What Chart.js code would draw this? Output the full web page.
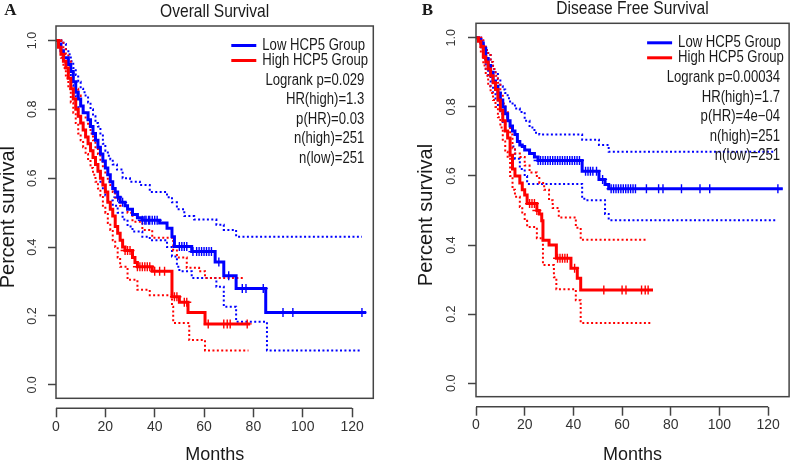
<!DOCTYPE html>
<html>
<head>
<meta charset="utf-8">
<script src="https://cdn.jsdelivr.net/npm/chart.js@4.4.1/dist/chart.umd.min.js"></script>
<style>
    html, body { margin: 0; padding: 0; background: #fff; }
    #wrap { position: relative; width: 795px; height: 464px; overflow: hidden; }
    .panel { position: absolute; top: 0; }
</style>
</head>
<body>
<div id="wrap">
    <canvas id="osChart" class="panel" width="397" height="464" style="left:0"></canvas>
    <canvas id="dfsChart" class="panel" width="398" height="464" style="left:397px"></canvas>
</div>
<script>

const xTicks = [0, 20, 40, 60, 80, 100, 120];
const yTicks = [0, 0.2, 0.4, 0.6, 0.8, 1.0];
const groupLabels = ["Low HCP5 Group", "High HCP5 Group"];

/* ===================================== */
/* OVERALL SURVIVAL  [month, survival]   */
/* ===================================== */

const osLow = [[0,1],[1,0.99],[2,0.97],[3,0.95],[5,0.93],[6,0.91],[7,0.88],[8,0.85],[9,0.83],[10,0.81],[11,0.79],[13,0.77],[14,0.75],[15,0.73],[16,0.71],[17,0.69],[18,0.67],[19,0.65],[20,0.63],[21,0.61],[22,0.59],[23,0.57],[24,0.56],[25,0.545],[26,0.53],[28,0.52],[29,0.51],[31,0.495],[33,0.485],[35,0.478],[42,0.47],[45,0.455],[47,0.43],[48,0.402],[55,0.387],[64.5,0.357],[68,0.317],[73,0.28],[85,0.21],[125.7,0.21]];
const osLowUp = [[0,1],[3,0.99],[4,0.975],[5,0.96],[6,0.94],[7,0.92],[8,0.9],[9,0.88],[10,0.86],[11,0.85],[12,0.84],[13,0.82],[14,0.8],[15,0.78],[16,0.76],[17,0.75],[18,0.73],[19,0.7],[20,0.68],[21,0.665],[22,0.655],[23,0.64],[24.7,0.625],[27,0.6],[30,0.59],[34,0.58],[38,0.56],[45,0.545],[47,0.53],[49,0.51],[52,0.49],[56,0.48],[65,0.465],[68,0.45],[73,0.43],[124,0.43]];
const osLowLo = [[0,1],[2,0.97],[3,0.94],[4,0.92],[5,0.9],[6,0.87],[7,0.84],[8,0.81],[9,0.78],[10,0.76],[11,0.74],[12,0.72],[13,0.7],[14,0.68],[15,0.66],[16,0.64],[17,0.62],[18,0.59],[19,0.567],[20,0.55],[21,0.535],[23,0.52],[25,0.5],[27,0.48],[29,0.46],[31,0.445],[35,0.43],[38,0.42],[45,0.4],[47,0.373],[49,0.343],[50,0.33],[55,0.31],[65,0.285],[68,0.227],[73,0.183],[85.5,0.1],[124,0.1]];
const osLowCens = [25, 27, 35, 36, 36.5, 37.5, 38, 39, 40, 41, 50, 51, 52, 53, 55.5, 57, 58, 59, 60, 61, 62, 63, 66, 70, 75.5, 77, 84, 92, 96, 124];

const osHigh = [[0,1],[1,0.98],[2,0.96],[3,0.94],[4,0.92],[5,0.89],[6,0.86],[7,0.83],[8,0.8],[9,0.78],[10,0.76],[11,0.74],[12,0.72],[13,0.7],[14,0.68],[15,0.66],[16,0.64],[17,0.62],[18,0.6],[19,0.58],[20,0.56],[21,0.53],[22,0.51],[23,0.49],[24,0.46],[25,0.44],[26,0.42],[27,0.4],[28,0.39],[31,0.37],[32,0.355],[33,0.343],[39,0.33],[47,0.256],[50,0.24],[53.5,0.21],[60.4,0.177],[78.7,0.177]];
const osHighUp = [[0,1],[3,0.98],[4,0.96],[5,0.94],[6,0.91],[7,0.88],[8,0.86],[9,0.84],[10,0.81],[11,0.79],[12,0.77],[13,0.75],[14,0.73],[15,0.71],[16,0.69],[17,0.67],[18,0.65],[19,0.63],[20,0.61],[21,0.59],[22,0.58],[23,0.56],[24,0.54],[26,0.52],[29,0.5],[31,0.474],[35,0.45],[39,0.427],[47.5,0.39],[49,0.37],[53,0.34],[58,0.33],[60.4,0.31],[76,0.31]];
const osHighLo = [[0,1],[2,0.95],[3,0.92],[4,0.89],[5,0.86],[6,0.82],[7,0.79],[8,0.76],[9,0.73],[10,0.71],[11,0.69],[12,0.67],[13,0.65],[14,0.63],[15,0.61],[16,0.59],[17,0.57],[18,0.55],[19,0.52],[20,0.5],[21,0.47],[22,0.45],[23,0.42],[24,0.4],[25,0.37],[26,0.343],[29,0.305],[33,0.276],[38,0.26],[47,0.227],[47.5,0.18],[54,0.13],[60.4,0.1],[78,0.1]];
const osHighCens = [28, 29, 30, 33, 34, 35, 36, 37, 38, 40, 42, 44, 48, 49, 52, 53, 61.7, 68, 69.4, 70.6, 77.5];

const osStats = ["Logrank p=0.029", "HR(high)=1.3", "p(HR)=0.03", "n(high)=251", "n(low)=251"];

/* ===================================== */
/* DISEASE FREE SURVIVAL                 */
/* ===================================== */

const dfsLow = [[0,1],[1,0.995],[2,0.985],[3,0.97],[4,0.94],[5,0.92],[6,0.9],[7,0.875],[8,0.86],[9,0.84],[10,0.82],[11,0.8],[12,0.78],[13,0.76],[14,0.745],[15,0.73],[16,0.72],[17,0.7],[18,0.69],[19,0.685],[20,0.675],[22,0.665],[24,0.655],[25.5,0.645],[43.6,0.614],[50.5,0.59],[53,0.575],[54.5,0.563],[126,0.563]];
const dfsLowUp = [[0,1],[2,0.99],[3,0.98],[4,0.965],[5,0.95],[6,0.93],[7,0.91],[8,0.895],[9,0.88],[10,0.86],[11,0.85],[12,0.84],[13,0.825],[14,0.81],[16,0.795],[18,0.785],[20,0.76],[22,0.74],[24,0.725],[26,0.72],[43.6,0.705],[50.5,0.69],[54.5,0.67],[123,0.67]];
const dfsLowLo = [[0,1],[2,0.97],[3,0.95],[4,0.91],[5,0.89],[6,0.86],[7,0.84],[8,0.82],[9,0.8],[10,0.78],[11,0.75],[12,0.73],[13,0.71],[14,0.685],[16,0.65],[18,0.62],[20,0.6],[21,0.577],[43.6,0.54],[44.5,0.53],[53,0.49],[54.5,0.472],[123,0.472]];
const dfsLowCens = [25.5, 26.5, 27.5, 28.5, 29.5, 30.5, 31.5, 32.5, 33.5, 34.5, 35.5, 36.5, 37.5, 38.5, 39.5, 40.5, 41.5, 42.5, 45, 46, 47, 48, 49.5, 52, 55.5, 56.5, 57.5, 58.5, 59.5, 60.5, 61.5, 62.5, 63.5, 64.5, 65.5, 70, 75, 76.8, 84.4, 92, 96, 124];

const dfsHigh = [[0,1],[1,0.99],[2,0.975],[3,0.945],[4,0.93],[5,0.91],[6,0.89],[7,0.87],[8,0.85],[9,0.82],[10,0.79],[11,0.76],[12,0.73],[13,0.71],[14,0.66],[15,0.62],[16,0.6],[18,0.58],[19,0.56],[20,0.545],[21,0.52],[25,0.5],[26,0.49],[27,0.47],[27.5,0.414],[30,0.4],[33,0.362],[39,0.333],[41.6,0.304],[43,0.27],[72.7,0.27]];
const dfsHighUp = [[0,1],[3,0.98],[4,0.965],[5,0.95],[6,0.93],[7,0.91],[8,0.89],[9,0.87],[10,0.84],[11,0.81],[12,0.785],[13,0.76],[14,0.72],[15,0.68],[16,0.665],[18,0.655],[20,0.63],[22,0.61],[25,0.6],[26,0.58],[28,0.56],[30,0.53],[31.5,0.507],[34,0.48],[41,0.45],[43,0.415],[70,0.415]];
const dfsHighLo = [[0,1],[2,0.96],[3,0.92],[4,0.89],[5,0.86],[6,0.84],[7,0.82],[8,0.8],[9,0.77],[10,0.74],[11,0.7],[12,0.67],[13,0.65],[14,0.6],[15,0.56],[16,0.54],[18,0.51],[19,0.49],[20,0.47],[21,0.452],[25,0.42],[27.5,0.342],[32,0.307],[33,0.272],[41,0.24],[43,0.174],[72,0.174]];
const dfsHighCens = [22, 23, 24, 25, 33.5, 34.5, 35.5, 36.5, 37.5, 40.5, 52.5, 60, 61.6, 68, 69.5, 70.7];

const dfsStats = ["Logrank p=0.00034", "HR(high)=1.7", "p(HR)=4e\u221204", "n(high)=251", "n(low)=251"];

const BLUE = "#0000ff";
const RED = "#ff0000";
const SANS = '"Liberation Sans", Arial, sans-serif';

function survAt(curve, t) {
    let s = curve[0][1];
    for (const [m, v] of curve) {
        if (m <= t) s = v;
    }
    return s;
}

function stepSet(curve, color, dotted) {
    return {
        type: "line",
        data: curve.map(([m, s]) => ({ x: m, y: s })),
        borderColor: color,
        borderWidth: dotted ? 2 : 3,
        borderDash: dotted ? [2, 2.4] : [],
        stepped: true,
        pointRadius: 0,
        fill: false
    };
}

function censorSet(curve, months, color) {
    return {
        type: "scatter",
        data: months.map(m => ({ x: m, y: survAt(curve, m) })),
        pointStyle: "cross",
        pointRadius: 4.5,
        borderColor: color,
        borderWidth: 1.4,
        showLine: false
    };
}

// the reference uses a condensed face, so squeeze plain text sideways
function narrowText(ctx, text, x, y, align) {
    ctx.save();
    ctx.translate(x, y);
    ctx.scale(0.82, 1);
    ctx.textAlign = align;
    ctx.fillText(text, 0, 0);
    ctx.restore();
}

/* box, detached x axis line, title, legend */
const kmFrame = {
    id: "kmFrame",
    afterDraw(chart, args, o) {
        const { ctx, chartArea: a, scales: { x, y } } = chart;
        ctx.save();

        ctx.strokeStyle = "#444";
        ctx.lineWidth = 1.5;
        const boxBottom = y.getPixelForValue(o.boxBottom);
        ctx.strokeRect(a.left, a.top, a.right - a.left, boxBottom - a.top);

        ctx.beginPath();
        ctx.moveTo(x.getPixelForValue(xTicks[0]), a.bottom);
        ctx.lineTo(x.getPixelForValue(xTicks[xTicks.length - 1]), a.bottom);
        ctx.stroke();

        ctx.fillStyle = "#1a1a1a";
        ctx.textBaseline = "middle";
        ctx.font = "19px " + SANS;
        narrowText(ctx, o.title, (a.left + a.right) / 2, a.top - 14.5, "center");

        ctx.font = 'bold 17px "Liberation Serif", serif';
        ctx.textAlign = "center";
        ctx.fillText(o.letter, o.letterX, 11);

        // legend
        ctx.font = "16px " + SANS;
        const colors = [BLUE, RED];
        [19.5, 34.5].forEach((dy, i) => {
            ctx.strokeStyle = colors[i];
            ctx.lineWidth = 3;
            ctx.beginPath();
            ctx.moveTo(a.right - 142, a.top + dy);
            ctx.lineTo(a.right - 117, a.top + dy);
            ctx.stroke();
            narrowText(ctx, groupLabels[i], a.right - 111, a.top + dy, "left");
        });

        o.stats.forEach((t, i) => {
            narrowText(ctx, t, a.right - 9, a.top + 54.5 + i * 19.5, "right");
        });

        ctx.restore();
    }
};

function buildPanel(canvasId, p) {

    const ctx = document.getElementById(canvasId).getContext("2d");

    return new Chart(ctx, {
        type: "line",
        data: {
            datasets: [
                stepSet(p.high, RED, false),
                stepSet(p.low, BLUE, false),
                censorSet(p.high, p.highCens, RED),
                censorSet(p.low, p.lowCens, BLUE),
                stepSet(p.highUp, RED, true),
                stepSet(p.highLo, RED, true),
                stepSet(p.lowUp, BLUE, true),
                stepSet(p.lowLo, BLUE, true)
            ]
        },
        options: {
            responsive: false,
            animation: false,
            events: [],
            layout: {
                padding: { top: p.padTop, right: p.padRight, left: 0, bottom: 0 }
            },
            plugins: {
                legend: { display: false },
                tooltip: { enabled: false },
                kmFrame: {
                    title: p.title,
                    letter: p.letter,
                    letterX: p.letterX,
                    stats: p.stats,
                    boxBottom: -0.039
                }
            },
            scales: {
                x: {
                    type: "linear",
                    min: 0,
                    max: 128.6,
                    afterBuildTicks: s => { s.ticks = xTicks.map(v => ({ value: v })); },
                    afterFit: s => { s.height = p.xAxisH; },
                    border: { display: false },
                    grid: {
                        drawOnChartArea: false,
                        drawTicks: true,
                        tickLength: 9,
                        tickColor: "#444",
                        tickWidth: 1.5
                    },
                    ticks: {
                        autoSkip: false,
                        maxRotation: 0,
                        padding: 1.5,
                        color: "#333",
                        font: { family: SANS, size: 14 }
                    },
                    title: {
                        display: true,
                        text: "Months",
                        color: "#1a1a1a",
                        padding: 0,
                        font: { family: SANS, size: 18, lineHeight: 1 }
                    }
                },
                y: {
                    type: "linear",
                    min: -0.068,
                    max: 1.042,
                    afterBuildTicks: s => { s.ticks = yTicks.map(v => ({ value: v })); },
                    afterFit: s => { s.width = p.yAxisW; },
                    border: { display: false },
                    grid: {
                        drawOnChartArea: false,
                        drawTicks: true,
                        tickLength: 8,
                        tickColor: "#444",
                        tickWidth: 1.5
                    },
                    ticks: {
                        autoSkip: false,
                        minRotation: 90,
                        maxRotation: 90,
                        crossAlign: "center",
                        padding: p.yTickPad,
                        color: "#333",
                        font: { family: SANS, size: 12.5 },
                        callback: v => v.toFixed(1)
                    },
                    title: {
                        display: true,
                        text: "Percent survival",
                        color: "#1a1a1a",
                        padding: { top: p.yTitlePad, bottom: 0 },
                        font: { family: SANS, size: 20, lineHeight: 0.8 }
                    }
                }
            }
        },
        plugins: [kmFrame]
    });
}

buildPanel("osChart", {
    title: "Overall Survival",
    letter: "A",
    letterX: 10.5,
    stats: osStats,
    low: osLow, lowUp: osLowUp, lowLo: osLowLo, lowCens: osLowCens,
    high: osHigh, highUp: osHighUp, highLo: osHighLo, highCens: osHighCens,
    padTop: 26,
    padRight: 23.7,
    xAxisH: 55.7,
    yAxisW: 56,
    yTickPad: 6.5,
    yTitlePad: 0
});

buildPanel("dfsChart", {
    title: "Disease Free Survival",
    letter: "B",
    letterX: 30.5,
    stats: dfsStats,
    low: dfsLow, lowUp: dfsLowUp, lowLo: dfsLowLo, lowCens: dfsLowCens,
    high: dfsHigh, highUp: dfsHighUp, highLo: dfsHighLo, highCens: dfsHighCens,
    padTop: 23.3,
    padRight: 0.7,
    xAxisH: 57.3,
    yAxisW: 79,
    yTickPad: 7.5,
    yTitlePad: 21
});

</script>
</body>
</html>
